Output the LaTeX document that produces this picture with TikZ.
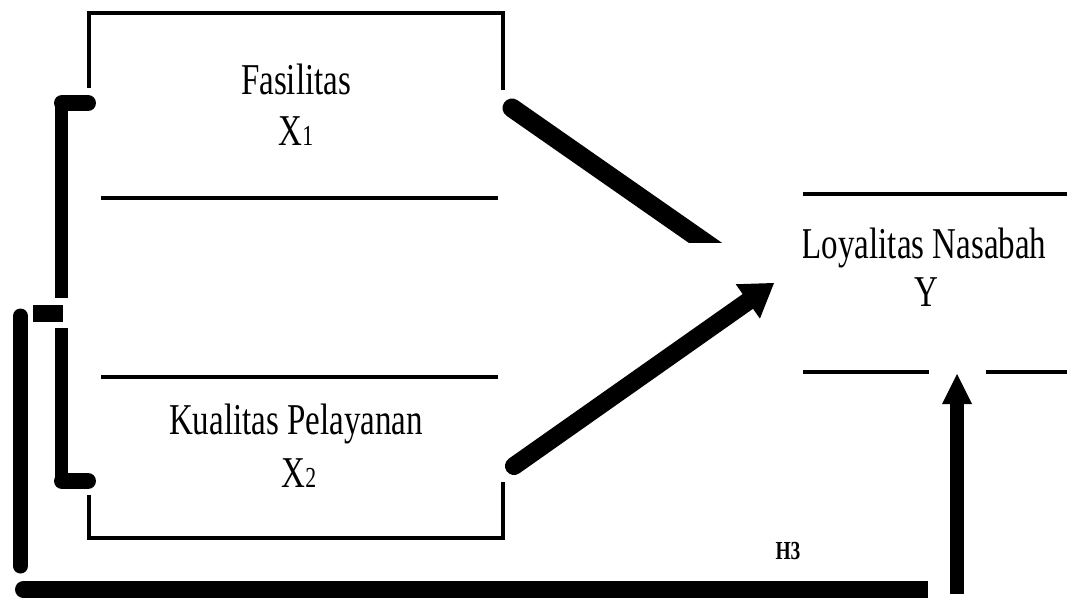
\documentclass[tikz,border=0pt]{standalone}
\usepackage{fontspec}
\setmainfont{Liberation Serif}[FakeStretch=0.75]
\usetikzlibrary{arrows.meta}
\begin{document}
\begin{tikzpicture}[x=1pt,y=-1pt,
  frame/.style={line width=3.5pt},
  lbl/.style={font=\fontsize{44}{52}\selectfont, inner sep=0pt, anchor=base},
  heavy/.style={line width=#1},
  bigtip/.style={-{Triangle[length=#1,width=#1,line width=0pt]}}
]
\useasboundingbox (0,0) rectangle (1067,598);

% variable X1
\node[lbl] (fas) at (296,94) {Fasilitas};
\node[lbl] (x1) at (296,145) {X{\fontsize{29}{32}\selectfont 1}};
\draw[frame] (89,88) -- (89,13) -- (503,13) -- (503,90);
\draw[frame] (101,198) -- (498,198);

% variable X2
\node[lbl] (kp) at (296,434) {Kualitas Pelayanan};
\node[lbl] (x2) at (299,487) {X{\fontsize{29}{32}\selectfont 2}};
\draw[frame] (101,377) -- (498,377);
\draw[frame] (89,495) -- (89,538) -- (503,538) -- (503,482);

% variable Y
\begin{scope}
  \clip (803,200) rectangle (1067,330);
  \node[lbl] (loy) at (924,258) {Loyalitas Nasabah};
  \node[lbl] (y) at (926,306) {Y};
\end{scope}
\draw[frame] (803,194) -- (1067,194);
\draw[frame] (803,372) -- (929,372);
\draw[frame] (986,372) -- (1067,372);

% bracket joining X1 and X2
\draw[heavy=16pt, line cap=round] (62,103) -- (88,103);
\draw[heavy=13pt] (61,100) -- (61,298);
\draw[heavy=17pt] (33,313) -- (63,313);
\draw[heavy=13pt] (61,328) -- (61,484);
\draw[heavy=16pt, line cap=round] (62,481) -- (88,481);

% simultaneous path (H3)
\coordinate (h3a) at (20.5,316);
\coordinate (h3b) at (20.5,566);
\coordinate (h3c) at (23.5,589.5);
\coordinate (h3d) at (928,589.5);
\coordinate (h3e) at (957,594);
\coordinate (yin) at (957,374);
\draw[heavy=15pt, line cap=round] (h3a) -- (h3b);
\draw[heavy=17pt, line cap=round] (h3c) -- ++(20,0);
\draw[heavy=17pt] (35,589.5) -- (h3d);
\draw[heavy=14pt, bigtip=30pt] (h3e) -- (yin);
\node[font=\bfseries\fontsize{26}{28}\selectfont, inner sep=0pt, anchor=base] (h3) at (788,559) {H3};

% X1 -> Y
\coordinate (x1out) at (512,108);
\coordinate (x1end) at (730,260);
\begin{scope}
  \clip (0,0) rectangle (1067,242);
  \draw[heavy=19pt, line cap=round] (x1out) -- (x1end);
\end{scope}

% X2 -> Y
\coordinate (x2out) at (514,466);
\coordinate (yleft) at (774,283);
\draw[heavy=18pt, line cap=round, -{Triangle[length=32pt,width=42pt,line width=0pt]}] (x2out) -- (yleft);
\end{tikzpicture}
\end{document}
